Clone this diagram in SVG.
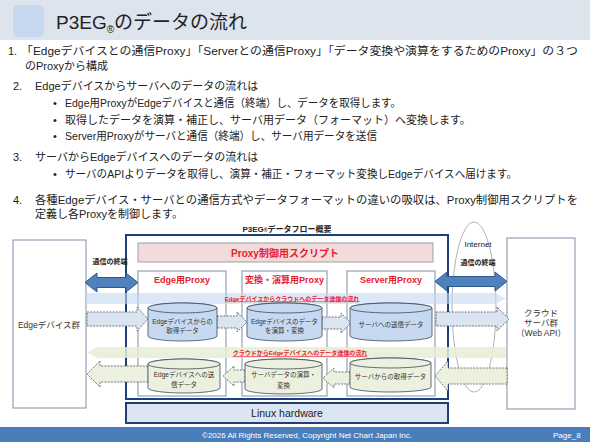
<svg xmlns="http://www.w3.org/2000/svg" width="590" height="442" viewBox="0 0 590 442">
<style>
text{font-family:"Liberation Sans","Noto Sans CJK JP",sans-serif;fill:#222}
.body{font-size:11px}
.lbl{font-size:9px;font-weight:bold;fill:#e8202a;text-anchor:middle}
.flow{font-size:6px;font-weight:bold;fill:#e8202a;text-anchor:middle;text-decoration:underline}
.cyl{font-size:6.5px;fill:#333;text-anchor:middle}
.small{font-size:8.5px;text-anchor:middle;fill:#333}
.box{fill:#fff;stroke:#7f8fa8;stroke-width:1}
.bcyl{fill:#c6d9f1;stroke:#3d4a5c;stroke-width:0.8}
.gcyl{fill:#ebf1de;stroke:#3d4a5c;stroke-width:0.8}
.barr{fill:#dbe5f1;stroke:#555;stroke-width:0.8;stroke-dasharray:2 1.2}
.garr{fill:#ebf1de;stroke:#555;stroke-width:0.8;stroke-dasharray:2 1.2}
.dbl{fill:#4f81bd;stroke:#2c5a8f;stroke-width:1}
.term{font-size:7px;font-weight:bold;text-anchor:middle;fill:#222}
</style>
<rect x="0" y="0" width="590" height="442" fill="#fff"/>
<g id="header">
<rect x="0" y="0" width="590" height="40" fill="#dde4ed"/>
<rect x="13" y="5" width="31" height="32" rx="5" fill="#c6d9f0"/>
<text x="56" y="29" font-size="19">P3EG<tspan font-size="10" dy="4">®</tspan><tspan dy="-4">のデータの流れ</tspan></text>
</g>
<g id="bodytext">
<text x="8" y="55" class="body">1.</text>
<text x="21" y="55" class="body" textLength="557" lengthAdjust="spacingAndGlyphs">「Edgeデバイスとの通信Proxy」「Serverとの通信Proxy」「データ変換や演算をするためのProxy」の３つ</text>
<text x="25" y="70" class="body">のProxyから構成</text>
<text x="13" y="90" class="body">2.</text>
<text x="35" y="90" class="body">Edgeデバイスからサーバへのデータの流れは</text>
<text x="53" y="107" class="body">•</text>
<text x="65" y="107" class="body" textLength="336" lengthAdjust="spacingAndGlyphs">Edge用ProxyがEdgeデバイスと通信（終端）し、データを取得します。</text>
<text x="53" y="124" class="body">•</text>
<text x="65" y="124" class="body">取得したデータを演算・補正し、サーバ用データ（フォーマット）へ変換します。</text>
<text x="53" y="140" class="body">•</text>
<text x="65" y="140" class="body" textLength="312" lengthAdjust="spacingAndGlyphs">Server用Proxyがサーバと通信（終端）し、サーバ用データを送信</text>
<text x="13" y="161" class="body">3.</text>
<text x="35" y="161" class="body">サーバからEdgeデバイスへのデータの流れは</text>
<text x="53" y="178" class="body">•</text>
<text x="65" y="178" class="body" textLength="452" lengthAdjust="spacingAndGlyphs">サーバのAPIよりデータを取得し、演算・補正・フォーマット変換しEdgeデバイスへ届けます。</text>
<text x="13" y="204" class="body">4.</text>
<text x="35" y="204" class="body" textLength="543" lengthAdjust="spacingAndGlyphs">各種Edgeデバイス・サーバとの通信方式やデータフォーマットの違いの吸収は、Proxy制御用スクリプトを</text>
<text x="35" y="218" class="body">定義し各Proxyを制御します。</text>
</g>
<text x="287" y="232" font-size="8" font-weight="bold" text-anchor="middle">P3EG<tspan font-size="5">®</tspan>データフロー概要</text>
<g id="edge-devices">
<rect x="13" y="240" width="73" height="168" class="box"/>
<text x="49" y="328" class="small">Edgeデバイス群</text>
</g>
<g id="cloud">
<rect x="507" y="238" width="68" height="171" class="box"/>
<text x="541" y="316" class="small">クラウド</text>
<text x="541" y="326" class="small">サーバ群</text>
<text x="541" y="336" class="small">（Web API）</text>
</g>
<g id="internet">
<ellipse cx="474" cy="307" rx="22" ry="85" fill="none" stroke="#9aa0a8" stroke-width="0.8"/>
<text x="478" y="247" font-size="8" text-anchor="middle">Internet</text>
</g>
<g id="p3eg-frame">
<rect x="126" y="235" width="322" height="164" fill="none" stroke="#1f3f7a" stroke-width="2"/>
</g>
<g id="script">
<rect x="138" y="243" width="295" height="19" fill="#f2dcdb" stroke="#a0a0a0" stroke-width="1"/>
<text x="285" y="256.5" font-size="10" font-weight="bold" text-anchor="middle" style="fill:#e8202a">Proxy制御用スクリプト</text>
</g>
<g id="edge-proxy">
<rect x="138" y="271" width="88" height="125" class="box"/>
<text x="182" y="283" class="lbl">Edge用Proxy</text>
</g>
<g id="calc-proxy">
<rect x="242" y="271" width="85" height="125" class="box"/>
<text x="284.5" y="283" class="lbl">変換・演算用Proxy</text>
</g>
<g id="server-proxy">
<rect x="347" y="271" width="88" height="125" class="box"/>
<text x="391" y="283" class="lbl">Server用Proxy</text>
</g>
<g id="linux">
<rect x="126" y="403" width="322" height="20" fill="#dce6f2" stroke="#1f3f7a" stroke-width="2"/>
<text x="287" y="417" font-size="10.5" text-anchor="middle">Linux hardware</text>
</g>
<g id="connectors">
<polygon points="86,293 495,293 506,298.5 495,304 86,304" fill="#c6d9f0" opacity="0.6"/>
<text x="292" y="300.5" class="flow">Edgeデバイスからクラウドへのデータ送信の流れ</text>
<polygon points="506,347 97,347 87,352.5 97,358 506,358" fill="#e6edd5" opacity="0.85"/>
<text x="300" y="355" class="flow">クラウドからEdgeデバイスへのデータ送信の流れ</text>
<path class="dbl" d="M85,282.5 L97,273 V277.5 H126 V273 L138,282.5 L126,292 V287.5 H97 V292 Z"/>
<path class="dbl" d="M435,281.5 L447,272 V276.5 H495 V272 L507,281.5 L495,291 V286.5 H447 V291 Z"/>
<text x="110" y="264" class="term">通信の終端</text>
<text x="478" y="265" class="term">通信の終端</text>
<path class="barr" d="M87,312 H137 V307 L148,319 L137,331 V326 H87 Z"/>
<path class="barr" d="M217,316 H237 V312 L247,322 L237,332 V328 H217 Z"/>
<path class="barr" d="M322,317 H341 V313 L351,323 L341,333 V329 H322 Z"/>
<path class="barr" d="M436,312 H497 V307 L509,319 L497,331 V326 H436 Z"/>
<path class="garr" d="M507,368 H448 V361 L435,376 L448,391 V384 H507 Z"/>
<path class="garr" d="M350,372 H334 V368 L323,378 L334,388 V384 H350 Z"/>
<path class="garr" d="M245,370 H234 V366 L223,376 L234,386 V382 H245 Z"/>
<path class="garr" d="M148,366 H100 V361 L87,374 L100,387 V382 H148 Z"/>
</g>
<g id="cyl-edge-get">
<path class="bcyl" d="M148,308 A34.5,5 0 0 1 217,308 V336 A34.5,5 0 0 1 148,336 Z"/>
<ellipse class="bcyl" cx="182.5" cy="308" rx="34.5" ry="5"/>
<text x="182.5" y="324" class="cyl">Edgeデバイスからの</text>
<text x="182.5" y="333" class="cyl">取得データ</text>
</g>
<g id="cyl-edge-calc">
<path class="bcyl" d="M247,308 A37.5,5 0 0 1 322,308 V336 A37.5,5 0 0 1 247,336 Z"/>
<ellipse class="bcyl" cx="284.5" cy="308" rx="37.5" ry="5"/>
<text x="284.5" y="324" class="cyl">Edgeデバイスのデータ</text>
<text x="284.5" y="333" class="cyl">を演算・変換</text>
</g>
<g id="cyl-server-send">
<path class="bcyl" d="M350,308 A41,5 0 0 1 432,308 V336 A41,5 0 0 1 350,336 Z"/>
<ellipse class="bcyl" cx="391" cy="308" rx="41" ry="5"/>
<text x="391" y="327" class="cyl">サーバへの送信データ</text>
</g>
<g id="cyl-edge-send">
<path class="gcyl" d="M148,364 A36,5 0 0 1 220,364 V388 A36,5 0 0 1 148,388 Z"/>
<ellipse class="gcyl" cx="184" cy="364" rx="36" ry="5"/>
<text x="184" y="377" class="cyl">Edgeデバイスへの送</text>
<text x="184" y="387" class="cyl">信データ</text>
</g>
<g id="cyl-server-calc">
<path class="gcyl" d="M245,364 A38.5,5 0 0 1 322,364 V389 A38.5,5 0 0 1 245,389 Z"/>
<ellipse class="gcyl" cx="283.5" cy="364" rx="38.5" ry="5"/>
<text x="283.5" y="377" class="cyl">サーバデータの演算・</text>
<text x="283.5" y="388" class="cyl">変換</text>
</g>
<g id="cyl-server-get">
<path class="gcyl" d="M350,363 A40.5,5 0 0 1 431,363 V387 A40.5,5 0 0 1 350,387 Z"/>
<ellipse class="gcyl" cx="390.5" cy="363" rx="40.5" ry="5"/>
<text x="390.5" y="379" class="cyl">サーバからの取得データ</text>
</g>
<g id="footer">
<rect x="0" y="427" width="590" height="15" fill="#4a7ebb"/>
<text x="307" y="438" font-size="8" text-anchor="middle" style="fill:#fff">©2026 All Rights Reserved, Copyright Net Chart Japan Inc.</text>
<text x="553" y="438" font-size="8" style="fill:#fff">Page_8</text>
</g>
</svg>
